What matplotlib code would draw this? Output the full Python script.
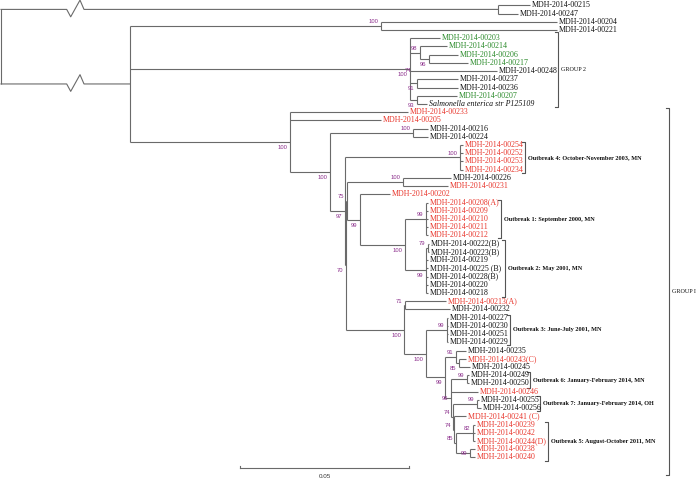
import matplotlib
matplotlib.use("Agg")
import matplotlib.pyplot as plt

# ── Tree data ────────────────────────────────────────────────────────────────
# tips, top to bottom; depth in substitutions per site
tip_names = [
    "MDH-2014-00215", "MDH-2014-00247", "MDH-2014-00204", "MDH-2014-00221",
    "MDH-2014-00203", "MDH-2014-00214", "MDH-2014-00206", "MDH-2014-00217",
    "MDH-2014-00248", "MDH-2014-00237", "MDH-2014-00236", "MDH-2014-00207",
    "Salmonella enterica str P125109",
    "MDH-2014-00233", "MDH-2014-00205", "MDH-2014-00216", "MDH-2014-00224",
    "MDH-2014-00254", "MDH-2014-00252", "MDH-2014-00253", "MDH-2014-00234",
    "MDH-2014-00226", "MDH-2014-00231", "MDH-2014-00202",
    "MDH-2014-00208(A)", "MDH-2014-00209", "MDH-2014-00210", "MDH-2014-00211",
    "MDH-2014-00212", "MDH-2014-00222(B)", "MDH-2014-00223(B)", "MDH-2014-00219",
    "MDH-2014-00225 (B)", "MDH-2014-00228(B)", "MDH-2014-00220", "MDH-2014-00218",
    "MDH-2014-00213(A)", "MDH-2014-00232", "MDH-2014-00227", "MDH-2014-00230",
    "MDH-2014-00251", "MDH-2014-00229", "MDH-2014-00235", "MDH-2014-00243(C)",
    "MDH-2014-00245", "MDH-2014-00249", "MDH-2014-00250", "MDH-2014-00246",
    "MDH-2014-00255", "MDH-2014-00256", "MDH-2014-00241 (C)", "MDH-2014-00239",
    "MDH-2014-00242", "MDH-2014-00244(D)", "MDH-2014-00238", "MDH-2014-00240",
]
tip_group = list("kkkkgggg" "kkkgk" "rrkk" "rrrr" "krr" "rrrrr" "kkkkkkk"
                 "rk" "kkkk" "kr" "kkk" "r" "kk" "r" "rrrrr")
tip_parent = [
    "A1", "A1", "C204", "C204", "G2", "C98", "C96", "C96", "G2", "C91", "C91",
    "C93", "C93", "G1", "G1", "C216", "C216", "O4", "O4", "O4", "O4",
    "C226", "C226", "N99a", "O1", "O1", "O1", "O1", "O1", "N79", "N79",
    "O2", "O2", "O2", "O2", "O2", "N71", "N71", "O3", "O3", "O3", "O3",
    "N91", "N85", "N85", "N99d", "N99d", "N96", "N99e", "N99e", "N74b",
    "N82", "N82", "N82", "N99f", "N99f",
]
tip_depth = [
    0.1565, 0.1530, 0.1645, 0.1645, 0.1299, 0.1320, 0.1352, 0.1382, 0.1467,
    0.1352, 0.1352, 0.1349, 0.1260, 0.1204, 0.1124, 0.1263, 0.1263,
    0.1367, 0.1367, 0.1367, 0.1367, 0.1331, 0.1322, 0.1151,
    0.1263, 0.1263, 0.1263, 0.1263, 0.1263, 0.1266, 0.1266,
    0.1262, 0.1263, 0.1262, 0.1262, 0.1262, 0.1317, 0.1328,
    0.1322, 0.1322, 0.1322, 0.1322, 0.1376, 0.1376, 0.1388,
    0.1385, 0.1385, 0.1411, 0.1414, 0.1419, 0.1376,
    0.1402, 0.1402, 0.1402, 0.1402, 0.1402,
]

# internal nodes
node_names = ["R", "A1", "B", "C204", "G2", "C98", "C96", "C91", "C93",
              "G1", "N100b", "C216", "N97", "O4", "N70", "N75", "C226",
              "N99a", "N100e", "O1", "O2", "N79", "N100d", "N71", "N100f",
              "O3", "N99c", "N91", "N85", "N96", "N99d", "N74a", "N99e",
              "N74b", "N85b", "N82", "N99f"]
node_parent = [None, "R", "R", "B", "B", "G2", "C98", "G2", "G2",
               "B", "G1", "N100b", "N100b", "N97", "N97", "N70", "N75",
               "N75", "N99a", "N100e", "N100e", "O2", "N70", "N100d", "N100d",
               "N100f", "N100f", "N99c", "N91", "N99c", "N96", "N96", "N74a",
               "N74a", "N74b", "N85b", "N85b"]
node_depth = [0.0, 0.1470, 0.0382, 0.1124, 0.1210, 0.1240, 0.1266, 0.1231, 0.1231,
              0.0855, 0.0973, 0.1218, 0.1018, 0.1358, 0.1021, 0.1024, 0.1189,
              0.1062, 0.1195, 0.1257, 0.1257, 0.1263, 0.1192, 0.1195, 0.1257,
              0.1319, 0.1314, 0.1346, 0.1355, 0.1331, 0.1379, 0.1337, 0.1408,
              0.1340, 0.1346, 0.1396, 0.1388]
node_support = ["", "", "", "100", "100", "98", "96", "91", "93",
                "100", "100", "100", "97", "100", "70", "75", "100",
                "99", "100", "99", "99", "79", "100", "71", "100",
                "99", "99", "91", "85", "96", "99", "74", "99",
                "74", "85", "82", "99"]
extra_support = [("G2", "74")]

# bracketed clades on the right
clade_labels = ["GROUP 2", "Outbreak 4: October-November 2003, MN",
                "Outbreak 1: September 2000, MN", "Outbreak 2: May 2001, MN",
                "Outbreak 3: June-July 2001, MN", "Outbreak 6: January-February 2014, MN",
                "Outbreak 7: January-February 2014, OH", "Outbreak 5: August-October 2011, MN",
                "GROUP I"]
clade_first = ["MDH-2014-00203", "MDH-2014-00254", "MDH-2014-00208(A)",
               "MDH-2014-00222(B)", "MDH-2014-00227", "MDH-2014-00249",
               "MDH-2014-00255", "MDH-2014-00239", "MDH-2014-00233"]
clade_last = ["Salmonella enterica str P125109", "MDH-2014-00234", "MDH-2014-00212",
              "MDH-2014-00218", "MDH-2014-00229", "MDH-2014-00250",
              "MDH-2014-00256", "MDH-2014-00240", "MDH-2014-00240"]
scale_len = 0.05

# ── Style ────────────────────────────────────────────────────────────────────
PX = 1 / 3380          # substitutions per pixel
ROW = 8.22             # pixels per tip row
Y0 = 5.3               # pixel row of first tip
LINE = "#6a6a6a"
PURPLE = "#8c2f8c"
TIP_COLORS = {"k": "#111111", "r": "#e8352b", "g": "#2a8a2a"}
SERIF = "Liberation Serif"
SANS = "Liberation Sans"
above = {"C204", "C98", "C216", "O4", "N75", "C226", "O1", "N79", "N71", "O3",
         "N91", "N99d", "N74a", "N99e", "N74b", "N85b", "N82"}
level = {"N96", "N99f"}
clade_x_px = [558, 525, 500.7, 505, 510, 530, 540, 548, 669]
clade_pad = [(6, 3.5), (3.5, 3.5), (2.6, 2.6), (3.5, 3.5), (3, 3),
             (3, 4.5), (4, 2.5), (3, 4), (4.5, 18)]
clade_bold = [False, True, True, True, True, True, True, True, False]

fig = plt.figure(figsize=(6.96, 4.80), dpi=100)
ax = fig.add_axes([0, 0, 1, 1])
ax.set_xlim(-PX, 695 * PX)
ax.set_ylim((480 - Y0) / ROW, -Y0 / ROW)
ax.axis("off")

# positions
xpos = {n: d for n, d in zip(node_names, node_depth)}
xpos.update({n: d for n, d in zip(tip_names, tip_depth)})
ypos = {n: i for i, n in enumerate(tip_names)}
children = {n: [] for n in node_names}
for n, p in zip(tip_names, tip_parent):
    children[p].append(n)
for n, p in zip(node_names, node_parent):
    if p:
        children[p].append(n)


def node_y(n):
    if n not in ypos:
        ys = [node_y(c) for c in children[n]]
        ypos[n] = (min(ys) + max(ys)) / 2
    return ypos[n]


node_y("R")
parent_of = dict(zip(tip_names, tip_parent))
parent_of.update({n: p for n, p in zip(node_names, node_parent) if p})

# vertical connectors
for n in node_names:
    ys = [ypos[c] for c in children[n]]
    ax.plot([xpos[n], xpos[n]], [min(ys), max(ys)], color=LINE, lw=0.8,
            solid_capstyle="butt")

# horizontal branches (root branches get a break mark)
for n, p in parent_of.items():
    x0, x1, y = xpos[p], xpos[n], ypos[n]
    if p == "R":
        zx = [x0, x0 + 65.7 * PX, x0 + 69.7 * PX, x0 + 79 * PX, x0 + 83 * PX, x1]
        zy = [y, y, y + 7.4 / ROW, y - 9.3 / ROW, y, y]
        ax.plot(zx, zy, color=LINE, lw=0.8)
    else:
        ax.plot([x0, x1], [y, y], color=LINE, lw=0.8, solid_capstyle="butt")

# tip labels
for n, g in zip(tip_names, tip_group):
    ax.text(xpos[n] + 2 * PX, ypos[n], n, ha="left", va="center",
            fontsize=5.7, family=SERIF, color=TIP_COLORS[g],
            style="italic" if n.startswith("Salmonella") else "normal")

# bootstrap values
for n, s in zip(node_names, node_support):
    if s:
        dy = 0.0 if n in level else (3.1 if n in above else -4.0)
        ax.annotate(s, (xpos[n], ypos[n]), xytext=(-1.8, dy),
                    textcoords="offset points", ha="right", va="center",
                    fontsize=4.2, family=SANS, color=PURPLE)
for n, s in extra_support:
    ax.annotate(s, (xpos[n], ypos[n]), xytext=(1.2, -1.2),
                textcoords="offset points", ha="right", va="center",
                fontsize=4.2, family=SANS, color=PURPLE)

# clade brackets
for lab, f, l, bx, (pt, pb), bold in zip(clade_labels, clade_first, clade_last,
                                         clade_x_px, clade_pad, clade_bold):
    x = (bx - 1) * PX
    y0 = ypos[f] - pt / ROW
    y1 = ypos[l] + pb / ROW
    ax.plot([x - 3 * PX, x, x, x - 3 * PX], [y0, y0, y1, y1], color="#555555", lw=0.8)
    ax.text(x + 3 * PX, (y0 + y1) / 2, lab, ha="left", va="center",
            fontsize=4.5 if bold else 4.4, family=SERIF,
            fontweight="bold" if bold else "normal", color="#111111")

# scale bar
sx0 = 239 * PX
sy = (468 - Y0) / ROW
ax.plot([sx0, sx0 + scale_len], [sy, sy], color=LINE, lw=0.8)
for sx in (sx0, sx0 + scale_len):
    ax.plot([sx, sx], [sy - 2.5 / ROW, sy], color=LINE, lw=0.8)
ax.text(sx0 + scale_len / 2, sy + 8 / ROW, f"{scale_len:.2f}", ha="center",
        va="center", fontsize=4.5, family=SANS, color="#333333")

plt.savefig("out.png", dpi=100)
plt.close()
